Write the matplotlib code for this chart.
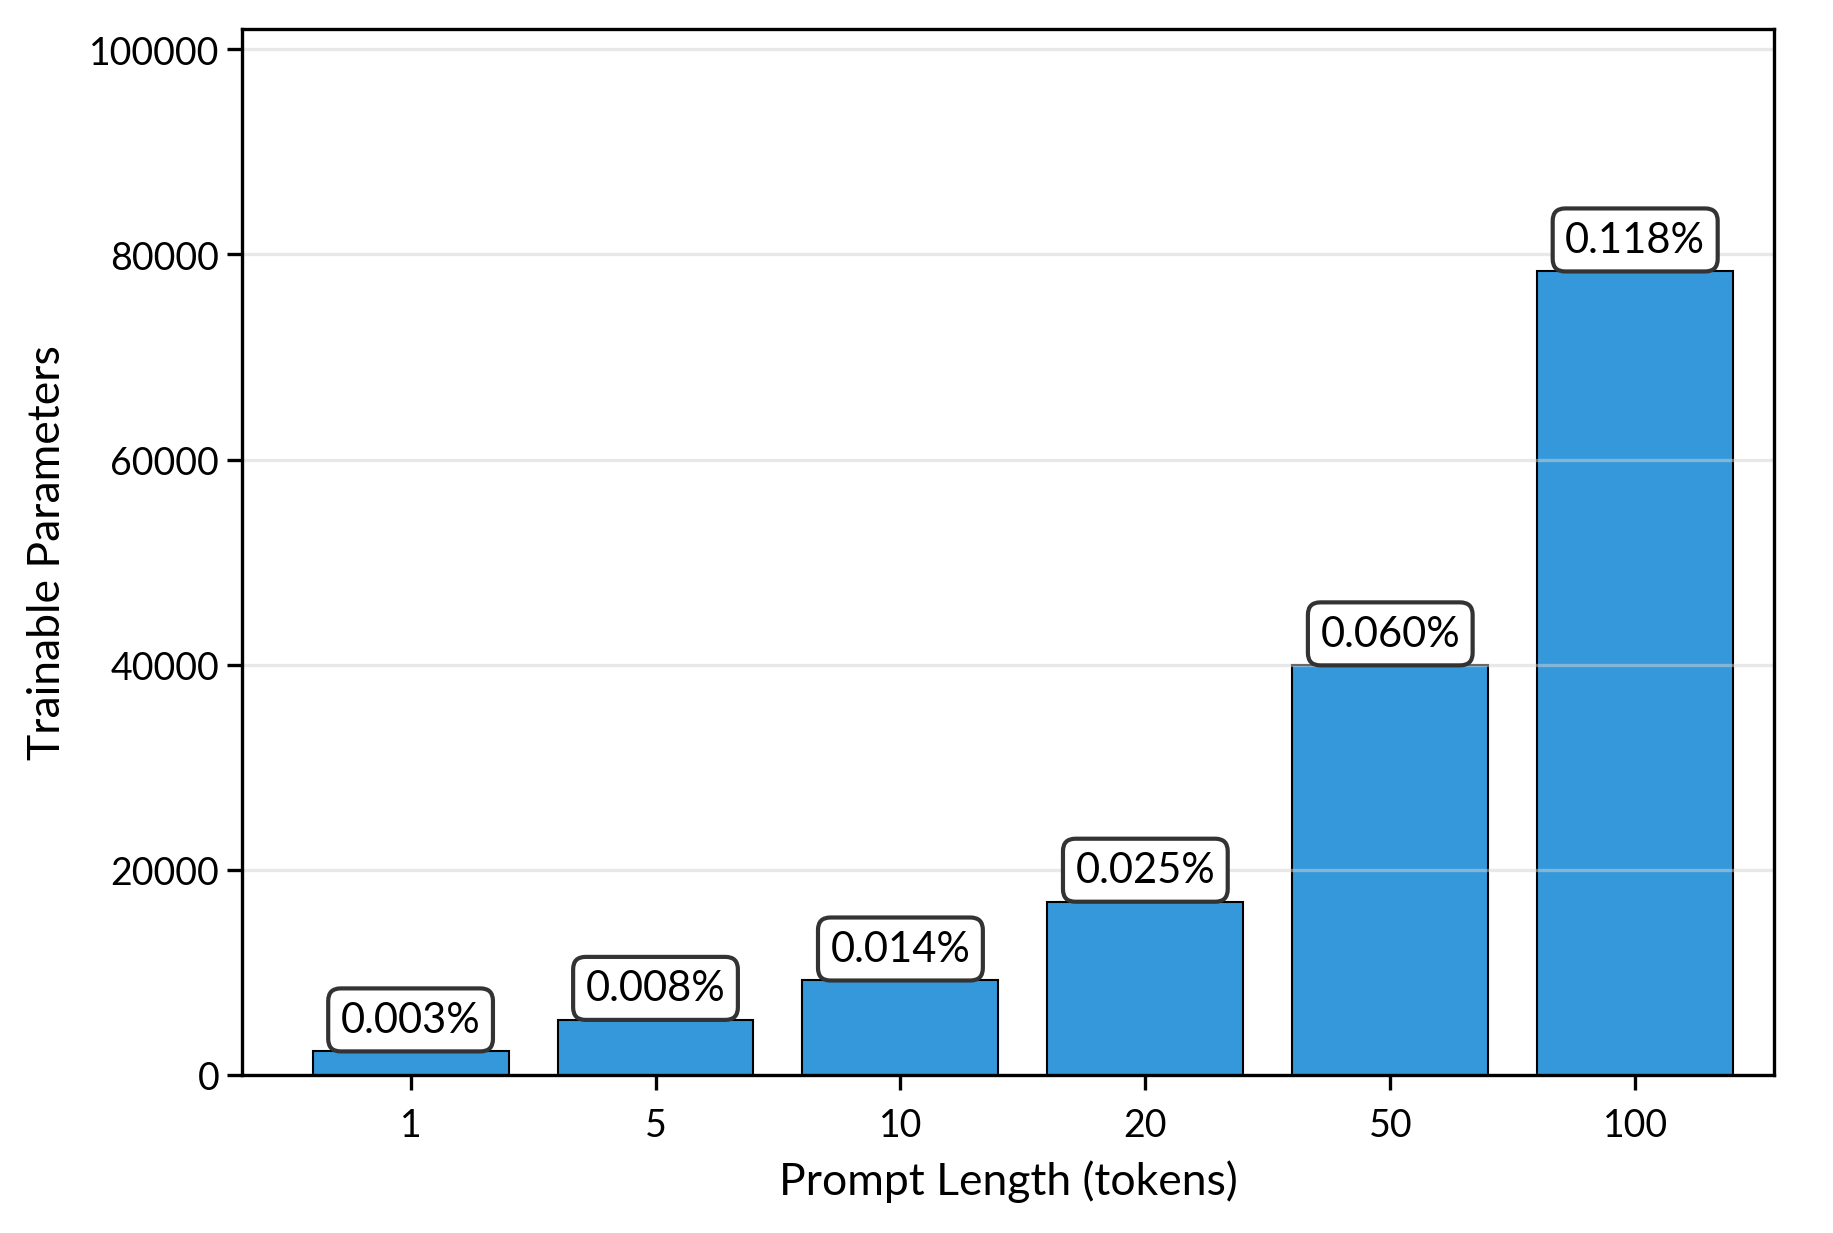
import matplotlib
matplotlib.use('Agg')
import matplotlib.pyplot as plt
import numpy as np

# data
prompt_lengths = ['1', '5', '10', '20', '50', '100']
trainable_params = [2306, 5378, 9218, 16898, 39938, 78338]
pct_labels = ['0.003%', '0.008%', '0.014%', '0.025%', '0.060%', '0.118%']

plt.rcParams['font.family'] = ['Lato', 'DejaVu Sans']

fig = plt.figure(figsize=(6.113, 4.113), dpi=300)
ax = fig.add_axes([0.132, 0.128, 0.8355, 0.848])

x = np.arange(len(prompt_lengths))
bars = ax.bar(x, trainable_params, width=0.8, color='#3498db',
              edgecolor='black', linewidth=0.5)

# percentage boxes above each bar
for b, lab in zip(bars, pct_labels):
    ax.annotate(lab, (b.get_x() + b.get_width() / 2, b.get_height()),
                xytext=(0, 3), textcoords='offset points',
                ha='center', va='bottom', fontsize=10,
                bbox=dict(boxstyle='round,pad=0.3', facecolor='white',
                          edgecolor='#333333', linewidth=1.0))

ax.set_xticks(x)
ax.set_xticklabels(prompt_lengths)
ax.set_ylim(0, 102000)
ax.set_xlim(-0.688, 5.568)
ax.set_yticks([0, 20000, 40000, 60000, 80000, 100000])
ax.tick_params(labelsize=9)
ax.tick_params(axis='x', pad=4.2)
ax.tick_params(axis='y', pad=2)
ax.set_xlabel('Prompt Length (tokens)', fontsize=10.7, labelpad=4)
ax.set_ylabel('Trainable Parameters', fontsize=10.7, labelpad=5)
ax.yaxis.grid(True, color='lightgray', alpha=0.5, linewidth=0.8)

fig.savefig('out.png', dpi=300)
